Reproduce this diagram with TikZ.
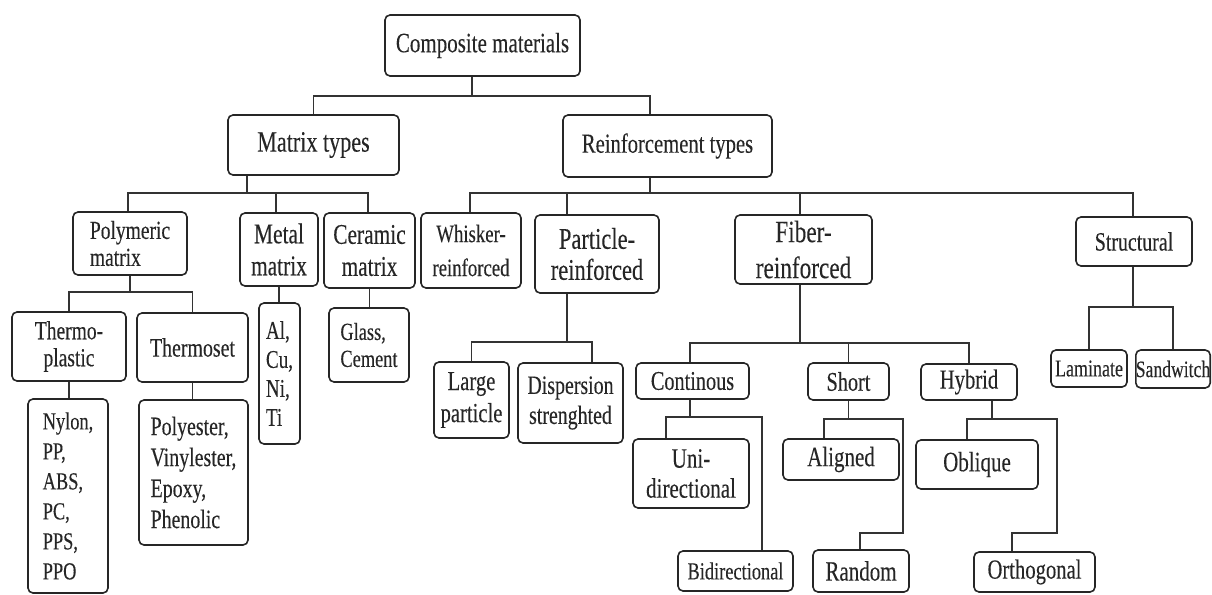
\documentclass[tikz,border=0pt]{standalone}
\usepackage{fontspec}
\setmainfont{Liberation Serif}[FakeStretch=0.75,FakeBold=0.2]
\begin{document}
\begin{tikzpicture}[x=1pt,y=-1pt,
  box/.style={draw=black!85, text=black!85, line width=1.6pt, rounded corners=5pt, inner sep=0pt, align=center},
  lbox/.style={box, align=left},
  fs/.style 2 args={font=\fontsize{#1}{#2}\selectfont},
  fs/.default={26}{30},
  sz/.style n args={2}{minimum width=#1pt, minimum height=#2pt},
  link/.style={draw=black!80, line width=1.3pt}]
\useasboundingbox (0,0) rectangle (1212,594);

% level 0-1
\node[box, fs={28}{32}, sz={195}{61}] (comp) at (482.5,45.5) {Composite materials};
\node[box, fs={29.5}{34}, sz={171}{60}] (matrix) at (313.5,145) {Matrix types};
\node[box, fs={27.5}{32}, sz={209}{62}] (reinf) at (667.5,146) {Reinforcement types};

% level 2
\node[lbox, fs={26}{27}, sz={114}{63}] (poly) at (130,243.5) {Polymeric\\matrix};
\node[box, fs={28.5}{32}, sz={78}{73}] (metal) at (279,249.5) {Metal\\matrix};
\node[box, fs={28.5}{32}, sz={91}{75}] (ceram) at (369.5,250.5) {Ceramic\\matrix};
\node[box, fs={25}{34}, sz={100}{75}] (whisk) at (471,250.5) {Whisker-\\reinforced};
\node[box, fs={30}{31}, sz={124}{78}] (partic) at (597,254) {Particle-\\reinforced};
\node[box, fs={31}{36}, sz={137}{69}] (fiber) at (803.5,249.5) {Fiber-\\reinforced};
\node[box, fs={26.5}{30}, sz={116}{49}] (struct) at (1134,241.5) {Structural};

% level 3
\node[box, fs={26}{27}, sz={114}{69}] (tplast) at (69,346.5) {Thermo-\\plastic};
\node[box, fs={26.5}{30}, sz={111}{69}] (tset) at (192.5,347.5) {Thermoset};
\node[lbox, fs={24.5}{30}, sz={80}{194}] (nylon) at (68,496) {Nylon,\\PP,\\ABS,\\PC,\\PPS,\\PPO};
\node[lbox, fs={26.5}{31}, sz={109}{145}] (polyes) at (193.5,472.5) {Polyester,\\Vinylester,\\Epoxy,\\Phenolic};
\node[lbox, fs={25.5}{29}, sz={41}{141}] (alcu) at (279.5,373.5) {Al,\\Cu,\\Ni,\\Ti};
\node[lbox, fs={24.5}{27}, sz={80}{74}] (glass) at (369,345) {Glass,\\Cement};
\node[box, fs={27.5}{32}, sz={75}{76}] (large) at (471.5,400) {Large\\particle};
\node[box, fs={26.5}{30}, sz={105}{80}] (disp) at (570.5,403) {Dispersion\\strenghted};
\node[box, fs={27}{30}, sz={113}{36}] (cont) at (692.5,381) {Continous};
\node[box, fs={27}{30}, sz={81}{37}] (short) at (848.5,381.5) {Short};
\node[box, fs={27.5}{30}, sz={96}{36}] (hybrid) at (969,382) {Hybrid};
\node[box, fs={24}{28}, sz={76}{37}] (lamin) at (1089,368.5) {Laminate};
\node[box, fs={23.5}{28}, sz={74}{38}] (sandw) at (1173,369) {Sandwitch};

% level 4
\node[box, fs={28}{30}, sz={116}{69}] (uni) at (691,473.5) {Uni-\\directional};
\node[box, fs={24.5}{28}, sz={115}{40}] (bidir) at (735.5,571) {Bidirectional};
\node[box, fs={28}{30}, sz={116}{41}] (aligned) at (841,459.5) {Aligned};
\node[box, fs={28}{30}, sz={96}{42}] (random) at (861,571) {Random};
\node[box, fs={28}{30}, sz={122}{49}] (oblique) at (977,464.5) {Oblique};
\node[box, fs={27.5}{30}, sz={121}{40}] (ortho) at (1034.5,572) {Orthogonal};

% bar levels and jog columns
\coordinate (b0) at (0,96);
\coordinate (b1) at (0,193);
\coordinate (b3) at (0,292);
\coordinate (b4) at (0,342);
\coordinate (b5) at (0,343);
\coordinate (b6) at (0,417);
\coordinate (b7) at (0,419);
\coordinate (b8) at (0,533);
\coordinate (b9) at (0,307);
\coordinate (sj) at (903,0);
\coordinate (hj) at (1057,0);

% connectors
\draw[link] ([xshift=-10.5pt]comp.south) -- ([xshift=-10.5pt]comp.south |- b0);
\draw[link] (matrix.north) -- (matrix.north |- b0) -- ([xshift=-17.5pt]reinf.north |- b0) -- ([xshift=-17.5pt]reinf.north);

\draw[link] ([xshift=-66.5pt]matrix.south) -- ([xshift=-66.5pt]matrix.south |- b1);
\draw[link] ([xshift=-2pt]poly.north) -- ([xshift=-2pt]poly.north |- b1) -- ([xshift=-1.5pt]ceram.north |- b1) -- ([xshift=-1.5pt]ceram.north);
\draw[link] ([xshift=-3pt]metal.north) -- ([xshift=-3pt]metal.north |- b1);

\draw[link] ([xshift=-17.5pt]reinf.south) -- ([xshift=-17.5pt]reinf.south |- b1);
\draw[link] ([xshift=-1pt]whisk.north) -- ([xshift=-1pt]whisk.north |- b1) -- ([xshift=-1pt]struct.north |- b1) -- ([xshift=-1pt]struct.north);
\draw[link] ([xshift=-30pt]partic.north) -- ([xshift=-30pt]partic.north |- b1);
\draw[link] ([xshift=-3.5pt]fiber.north) -- ([xshift=-3.5pt]fiber.north |- b1);

\draw[link] (poly.south) -- (poly.south |- b3);
\draw[link] (tplast.north) -- (tplast.north |- b3) -- (tset.north |- b3) -- (tset.north);
\draw[link] (tplast.south) -- (tplast.south |- nylon.north);
\draw[link] (tset.south) -- (tset.south |- polyes.north);
\draw[link] (metal.south) -- (metal.south |- alcu.north);
\draw[link] (ceram.south) -- (ceram.south |- glass.north);

\draw[link] ([xshift=-30pt]partic.south) -- ([xshift=-30pt]partic.south |- b4);
\draw[link] (large.north) -- (large.north |- b4) -- ([xshift=21.5pt]disp.north |- b4) -- ([xshift=21.5pt]disp.north);

\draw[link] ([xshift=-3.5pt]fiber.south) -- ([xshift=-3.5pt]fiber.south |- b5);
\draw[link] ([xshift=-2.5pt]cont.north) -- ([xshift=-2.5pt]cont.north |- b5) -- (hybrid.north |- b5) -- (hybrid.north);
\draw[link] (short.north) -- (short.north |- b5);

\draw[link] ([xshift=-2.5pt]cont.south) -- ([xshift=-2.5pt]cont.south |- b6);
\draw[link] ([xshift=-25pt]uni.north) -- ([xshift=-25pt]uni.north |- b6) -- ([xshift=26.5pt]bidir.north |- b6) -- ([xshift=26.5pt]bidir.north);

\draw[link] (short.south) -- (short.south |- b7);
\draw[link] ([xshift=-17pt]aligned.north) -- ([xshift=-17pt]aligned.north |- b7) -- (sj |- b7) -- (sj |- b8) -- ([xshift=-1pt]random.north |- b8) -- ([xshift=-1pt]random.north);

\draw[link] ([xshift=23pt]hybrid.south) -- ([xshift=23pt]hybrid.south |- b7);
\draw[link] ([xshift=-10pt]oblique.north) -- ([xshift=-10pt]oblique.north |- b7) -- (hj |- b7) -- (hj |- b8) -- ([xshift=-22.5pt]ortho.north |- b8) -- ([xshift=-22.5pt]ortho.north);

\draw[link] ([xshift=-1pt]struct.south) -- ([xshift=-1pt]struct.south |- b9);
\draw[link] (lamin.north) -- (lamin.north |- b9) -- (sandw.north |- b9) -- (sandw.north);
\end{tikzpicture}
\end{document}
